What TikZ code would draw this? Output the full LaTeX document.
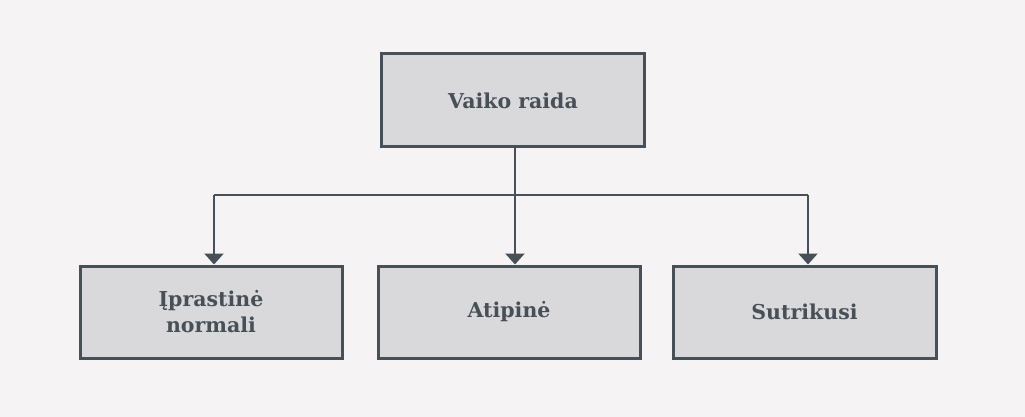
\documentclass[tikz,border=0pt]{standalone}
\usepackage{fontspec}
\setmainfont{DejaVu Serif}
\usetikzlibrary{arrows.meta}
\definecolor{bg}{HTML}{F5F3F4}
\definecolor{boxfill}{HTML}{D9D9DC}
\definecolor{ink}{HTML}{474F57}
\tikzset{
  box/.style={draw=ink, fill=boxfill, line width=3pt, text=ink, font=\bfseries\fontsize{20.5}{26}\selectfont, align=center, inner sep=0pt},
  conn/.style={draw=ink, line width=2.4pt, -{Triangle[width=19pt,length=11pt]}},
  link/.style={draw=ink, line width=2.4pt}
}
\begin{document}
\begin{tikzpicture}[x=1pt,y=-1pt]
\fill[bg] (0,0) rectangle (1025,417);
\useasboundingbox (0,0) rectangle (1025,417);
\node[box, minimum width=263pt, minimum height=93pt] (top) at (513,100.5) {Vaiko raida};
\node[box, minimum width=262pt, minimum height=92pt] (l) at (211,312) {Įprastinė\\normali};
\node[box, minimum width=262pt, minimum height=92pt] (m) at (509,312) {Atipinė};
\node[box, minimum width=263pt, minimum height=92pt] (r) at (804.5,312) {Sutrikusi};
\coordinate (hl) at (214,195);
\coordinate (hr) at (808,195);
\draw[link] (top.south -| 515,0) -- (515,195);
\draw[link] (hl) -- (hr);
\draw[conn] (hl) -- (l.north -| hl);
\draw[conn] (515,195) -- (m.north -| 515,0);
\draw[conn] (hr) -- (r.north -| hr);
\end{tikzpicture}
\end{document}
